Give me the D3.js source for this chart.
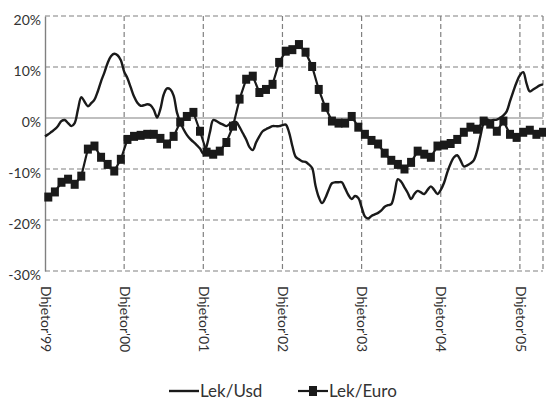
<!DOCTYPE html>
<html>
<head>
<meta charset="utf-8">
<script src="https://cdn.jsdelivr.net/npm/d3@7"></script>
<style>
  body { margin: 0; background: #fff; }
  svg { display: block; }
  text { font-family: Lato, "Open Sans", sans-serif; fill: #333; }
</style>
</head>
<body>
<svg id="chart" width="546" height="401"></svg>
<script>
// x labels: one per December, months counted from Dec 1999
var yearLabels = ["Dhjetor'99", "Dhjetor'00", "Dhjetor'01", "Dhjetor'02", "Dhjetor'03", "Dhjetor'04", "Dhjetor'05"];
var yearMonths = [0, 12, 24, 36, 48, 60, 72];
var yTicks = [20, 10, 0, -10, -20, -30];
var seriesNames = ["Lek/Usd", "Lek/Euro"];

// Lek/Usd, % change, two readings per month from Dec 1999
var usdStep = 0.5;
var lekUsd = [
  -3.6, -3.2, -2.7, -2.2, -1.5, -0.6, -0.4, -1.0, -1.6, -1.0,
   1.7,  4.1,  3.2,  2.3,  2.9,  3.6,  5.2,  7.2,  8.9, 10.8,
  12.1, 12.6, 12.3, 11.3,  9.1,  7.8,  6.0,  4.2,  3.0,  2.4,
   2.5,  2.7,  2.5,  1.6,  0.1,  1.8,  4.6,  5.8,  5.6,  4.4,
   1.1, -0.8, -2.2, -3.3, -4.1, -4.7, -5.3, -6.0, -7.0, -5.5,
  -2.8, -0.4, -0.6, -1.0, -1.3, -1.6, -1.2, -0.8, -0.8, -1.8,
  -3.0, -4.2, -5.7, -6.3, -4.8, -3.6, -2.6, -2.2, -1.9, -1.6,
  -1.6, -1.6, -1.4, -1.3, -2.8, -5.5, -7.6, -8.1, -8.5, -8.6,
  -9.1, -9.8, -13.2, -15.5, -16.7, -15.7, -14.1, -12.8, -12.6, -12.6,
  -12.6, -13.8, -15.1, -15.9, -15.3, -15.7, -17.5, -19.3, -19.7, -19.2,
  -18.9, -18.6, -18.1, -17.4, -17.1, -16.9, -14.7, -12.0, -12.5, -13.6,
  -14.7, -15.9, -14.9, -14.3, -14.6, -14.9, -14.1, -13.4, -14.1, -14.9,
  -14.1, -12.7, -10.6, -8.9, -7.7, -7.3, -8.3, -9.5, -9.3, -8.9,
  -8.3, -6.5, -3.6, -1.0, -0.3, -0.5, -0.4, -0.3,  0.0,  0.5,
   1.3,  3.3,  5.2,  7.0,  8.4,  9.0,  6.8,  5.2,  5.6,  6.0,
   6.4,  6.6
];

// Lek/Euro, % change, monthly (plotted mid-month)
var lekEuro = [
  -15.5, -14.5, -12.6, -12.0, -13.0, -11.4, -6.1, -5.5, -7.7, -9.1, -10.4, -8.1,
  -4.2, -3.6, -3.4, -3.2, -3.2, -4.0, -5.1, -3.6, -0.8, 0.3, 1.1, -2.6,
  -6.7, -7.1, -6.5, -4.8, -1.6, 3.7, 7.6, 8.2, 5.0, 5.6, 6.6, 10.9,
  13.1, 13.4, 14.4, 12.9, 10.1, 5.6, 2.1, -0.6, -1.0, -1.0, 0.3, -1.8,
  -3.2, -4.4, -5.1, -6.9, -8.3, -9.1, -10.0, -8.7, -6.5, -7.1, -7.7, -5.5,
  -5.3, -5.0, -4.2, -2.8, -1.8, -2.2, -0.6, -1.2, -2.6, -0.6, -3.2, -3.8,
  -2.8, -2.4, -3.2, -2.8
];

var svg = d3.select('#chart');
var ink = '#1a1a1a';
var gridColor = '#808080';

var x = d3.scaleLinear().domain([0, 75.5]).range([45, 543]);
var y = d3.scaleLinear().domain([-30, 20]).range([271, 16]);

// grid
var grid = svg.append('g');
grid.selectAll('.hgrid')
  .data(yTicks)
  .join('line')
  .attr('x1', x(0)).attr('x2', x(75.5))
  .attr('y1', d => y(d)).attr('y2', d => y(d))
  .attr('stroke', gridColor)
  .attr('stroke-width', 1.2)
  .attr('stroke-dasharray', d => d === 0 ? null : '5,3');

grid.selectAll('.vgrid')
  .data(yearMonths.slice(1).concat([75.5]))
  .join('line')
  .attr('x1', d => x(d)).attr('x2', d => x(d))
  .attr('y1', y(20)).attr('y2', y(-30))
  .attr('stroke', gridColor)
  .attr('stroke-width', 1.2)
  .attr('stroke-dasharray', '5,3');

// y axis
var yAxis = svg.append('g')
  .attr('transform', `translate(${x(0)},0)`)
  .call(d3.axisLeft(y).tickValues(yTicks).tickFormat(d => d + '%').tickSize(0).tickPadding(4));
yAxis.select('.domain').attr('stroke', gridColor).attr('stroke-width', 1.4);
yAxis.selectAll('text')
  .attr('dy', '0.64em')
  .style('font-family', 'Lato, "Open Sans", sans-serif')
  .style('font-size', '14px')
  .attr('fill', '#333');

// x axis, rotated labels
var xAxis = svg.append('g')
  .attr('transform', `translate(0,${y(-30)})`)
  .call(d3.axisBottom(x).tickValues(yearMonths).tickFormat((d, i) => yearLabels[i]).tickSize(0));
xAxis.select('.domain').remove();
xAxis.selectAll('text')
  .attr('x', 15)
  .attr('y', 0)
  .attr('dy', '0.35em')
  .attr('transform', 'rotate(90)')
  .style('text-anchor', 'start')
  .style('font-family', 'Lato, "Open Sans", sans-serif')
  .style('font-size', '14px')
  .attr('fill', '#333');

// Lek/Usd line
var usdLine = d3.line()
  .x((d, i) => x(i * usdStep))
  .y(d => y(d))
  .curve(d3.curveCatmullRom);
svg.append('path')
  .datum(lekUsd)
  .attr('d', usdLine)
  .attr('fill', 'none')
  .attr('stroke', ink)
  .attr('stroke-width', 2.4)
  .attr('stroke-linejoin', 'round');

// Lek/Euro line with square markers
var euroLine = d3.line()
  .x((d, i) => x(i + 0.5))
  .y(d => y(d));
svg.append('path')
  .datum(lekEuro)
  .attr('d', euroLine)
  .attr('fill', 'none')
  .attr('stroke', ink)
  .attr('stroke-width', 2.2);
svg.append('g')
  .selectAll('rect')
  .data(lekEuro)
  .join('rect')
  .attr('x', (d, i) => x(i + 0.5) - 4)
  .attr('y', d => y(d) - 4.5)
  .attr('width', 8)
  .attr('height', 9)
  .attr('fill', ink);

// legend
var legend = svg.append('g').attr('transform', 'translate(0,391)');
var item = legend.selectAll('g')
  .data(seriesNames)
  .join('g')
  .attr('transform', (d, i) => `translate(${i === 0 ? 169 : 298},0)`);
item.append('line')
  .attr('x1', 0).attr('x2', 30)
  .attr('stroke', ink)
  .attr('stroke-width', (d, i) => i === 0 ? 2.4 : 2.2);
item.filter((d, i) => i === 1)
  .append('rect')
  .attr('x', 11).attr('y', -5)
  .attr('width', 8).attr('height', 10)
  .attr('fill', ink);
item.append('text')
  .attr('x', 31)
  .attr('dy', '0.36em')
  .style('font-size', '17px')
  .text(d => d);
</script>
</body>
</html>
